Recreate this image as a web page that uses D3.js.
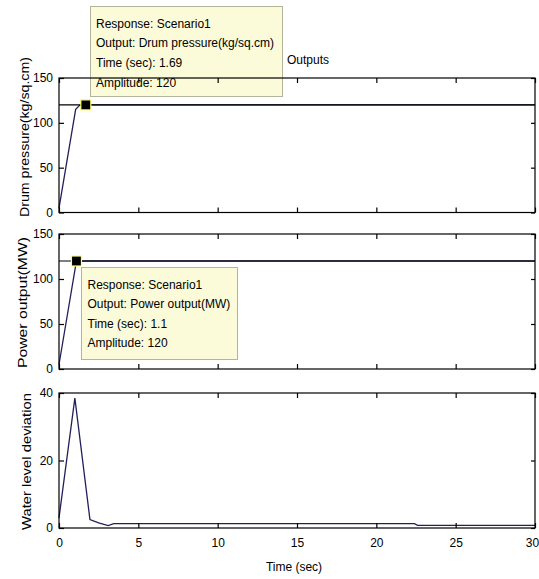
<!DOCTYPE html>
<html><head><meta charset="utf-8">
<script src="https://cdn.jsdelivr.net/npm/d3@7"></script>
<style>
body{margin:0;background:#fff}
svg{display:block}
text{font-family:"Liberation Sans",Arial,sans-serif;fill:#000}
</style></head>
<body><svg id="c" width="539" height="579"></svg>
<script>
// ---- data ----
const timeTicks = [0, 5, 10, 15, 20, 25, 30];
const drumTicks = [0, 50, 100, 150];
const powerTicks = [0, 50, 100, 150];
const waterTicks = [0, 20, 40];

const drumTime = [0, 1.05, 1.3, 1.69, 2.5, 30];
const drumValue = [5, 115, 119.5, 120, 120, 120];
const powerTime = [0, 1.1, 30];
const powerValue = [5, 120, 120];
const waterTime = [0, 1.0, 1.95, 2.5, 3.1, 3.45, 22.4, 22.6, 30];
const waterValue = [3, 38.5, 2.5, 1.5, 0.7, 1.3, 1.3, 0.8, 0.8];
const steadyValue = [120, 120, null];

const labels = ["Drum pressure(kg/sq.cm)", "Power output(MW)", "Water level deviation"];
const title = "Outputs";
const xLabel = "Time (sec)";
const tipDrum = ["Response: Scenario1", "Output: Drum pressure(kg/sq.cm)", "Time (sec): 1.69", "Amplitude: 120"];
const tipPower = ["Response: Scenario1", "Output: Power output(MW)", "Time (sec): 1.1", "Amplitude: 120"];
const tipPoints = [[1.69, 120], [1.1, 120]];

// ---- layout ----
const svg = d3.select("#c");
const X0 = 59, X1 = 535;
const x = d3.scaleLinear().domain([0, 30]).range([X0, X1]);
const panels = [
  {top: 78, bot: 212.5, max: 150, ticks: drumTicks, t: drumTime, v: drumValue, steady: steadyValue[0], label: labels[0], lx: 29, ly0: 57, ly1: 217},
  {top: 234, bot: 369, max: 150, ticks: powerTicks, t: powerTime, v: powerValue, steady: steadyValue[1], label: labels[1], lx: 27, ly0: 237, ly1: 368},
  {top: 393, bot: 528, max: 40, ticks: waterTicks, t: waterTime, v: waterValue, steady: steadyValue[2], label: labels[2], lx: 31, ly0: 393, ly1: 530}
];
panels.forEach(p => p.y = d3.scaleLinear().domain([0, p.max]).range([p.bot, p.top]));

// ---- tooltips (drawn beneath the axes) ----
function tooltip(lines, bx, by, bw, bh, tx, baselines) {
  const g = svg.append("g");
  g.append("rect").attr("x", bx).attr("y", by).attr("width", bw).attr("height", bh)
    .attr("fill", "#fbfbd9").attr("stroke", "#b4b49a").attr("stroke-width", 1);
  lines.forEach((s, i) => g.append("text").attr("x", tx).attr("y", baselines[i])
    .attr("font-size", 12).attr("fill", "#111").text(s));
}
tooltip(tipDrum, 90.5, 6.5, 192, 90, 96, [27.5, 47, 66.5, 86.5]);
tooltip(tipPower, 81.5, 267.5, 156, 92, 87.5, [288.5, 308, 327.5, 347]);

// ---- panels ----
const line = d3.line();
panels.forEach((p, i) => {
  const g = svg.append("g");
  const pts = p.t.map((t, j) => [x(t), p.y(p.v[j])]);
  g.append("path").attr("d", line(pts)).attr("fill", "none")
    .attr("stroke", "#22205a").attr("stroke-width", 1.3);
  if (p.steady != null) {
    g.append("path").attr("d", line([[x(0), p.y(p.steady)], [x(30), p.y(p.steady)]]))
      .attr("stroke", "#000").attr("stroke-width", 1.1).attr("fill", "none");
  }
  g.append("rect").attr("x", X0).attr("y", p.top).attr("width", X1 - X0).attr("height", p.bot - p.top)
    .attr("fill", "none").attr("stroke", "#000").attr("stroke-width", 1.2);
  const left = g.append("g").attr("transform", `translate(${X0},0)`)
    .call(d3.axisLeft(p.y).tickValues(p.ticks).tickSize(-5).tickPadding(6));
  const right = g.append("g").attr("transform", `translate(${X1},0)`)
    .call(d3.axisRight(p.y).tickValues(p.ticks).tickSize(-4).tickFormat(""));
  const top = g.append("g").attr("transform", `translate(0,${p.top})`)
    .call(d3.axisTop(x).tickValues(timeTicks).tickSize(-5).tickFormat(""));
  const bottom = g.append("g").attr("transform", `translate(0,${p.bot})`)
    .call(d3.axisBottom(x).tickValues(timeTicks).tickSize(-5).tickPadding(10)
      .tickFormat(i === 2 ? d3.format("d") : ""));
  [left, right, top, bottom].forEach(a => {
    a.select(".domain").remove();
    a.selectAll("line").attr("stroke", "#000").attr("stroke-width", 1.2);
    a.selectAll("text").attr("font-size", 12).attr("font-family", "Liberation Sans, Arial, sans-serif").attr("fill", "#111");
  });
  // keep the last x tick label inside the picture
  bottom.selectAll("text").filter(d => d === 30).attr("dx", -3);
  const cy = (p.ly0 + p.ly1) / 2;
  g.append("text").attr("transform", `translate(${p.lx},${cy}) rotate(-90)`)
    .attr("text-anchor", "middle").attr("font-size", 13).attr("fill", "#222")
    .attr("textLength", p.ly1 - p.ly0).attr("lengthAdjust", "spacingAndGlyphs")
    .text(p.label);
});

// ---- data tip markers ----
tipPoints.forEach((d, i) => {
  const p = panels[i];
  svg.append("rect").attr("x", x(d[0]) - 5).attr("y", p.y(d[1]) - 5).attr("width", 10).attr("height", 10)
    .attr("fill", "#000").attr("stroke", "#ffff70").attr("stroke-width", 1.2);
});

// ---- title & x label ----
svg.append("text").attr("x", 287).attr("y", 64).attr("font-size", 12).attr("fill", "#111").text(title);
svg.append("text").attr("x", x(15) - 3).attr("y", 571).attr("text-anchor", "middle").attr("font-size", 12).attr("fill", "#111").text(xLabel);
</script></body></html>
